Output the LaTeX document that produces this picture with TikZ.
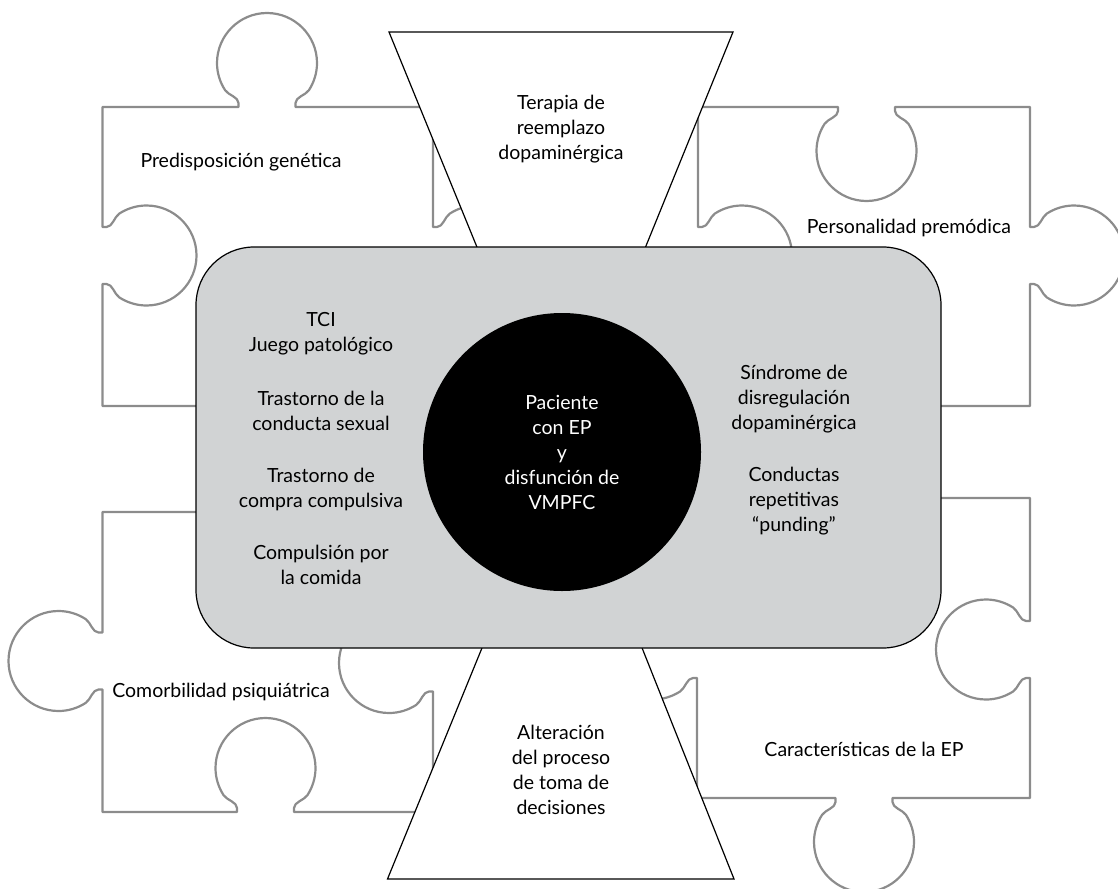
\documentclass[tikz,border=0pt]{standalone}
\usepackage{fontspec}
\setmainfont{Lato}
\definecolor{boxgray}{RGB}{209,211,212}
\definecolor{piecegray}{RGB}{140,140,140}
\newcommand\mktab[7]{%
  \foreach \i/\tu/\tv in {0/-28.5/0,1/-28.5/4,2/-28.5/10,3/-38.63/11.77,4/-41.9/16.8,5/-47.17/24.91,6/-50/34.33,7/-50/44,8/-50/71.6,9/-27.6/94,10/0/94,11/27.6/94,12/50/71.6,13/50/44,14/50/34.33,15/47.17/24.91,16/41.9/16.8,17/38.63/11.77,18/28.5/10,19/28.5/4,20/28.5/0}{%
    \coordinate (#1-\i) at ({#2+(\tu)*(#4)+(\tv)*(#6)},{#3+(\tu)*(#5)+(\tv)*(#7)});
  }%
}
\tikzset{
  piece/.style={draw=piecegray, line width=2.2pt, line join=round},
  trap/.style={draw=black, line width=1.2pt, fill=white, line join=miter},
  lbl/.style={align=center, font=\fontsize{19.5}{25}\selectfont, inner sep=0pt},
  tabp/.style={insert path={-- (#1-0) -- (#1-1) .. controls (#1-2) and (#1-3) .. (#1-4) .. controls (#1-5) and (#1-6) .. (#1-7) .. controls (#1-8) and (#1-9) .. (#1-10) .. controls (#1-11) and (#1-12) .. (#1-13) .. controls (#1-14) and (#1-15) .. (#1-16) .. controls (#1-17) and (#1-18) .. (#1-19) -- (#1-20)}}
}
\begin{document}
\begin{tikzpicture}[x=1pt,y=-1pt]
\useasboundingbox (0,0) rectangle (1118,888);
% top-left piece
\mktab{tlA}{267}{107}{1}{0}{0}{-1}
\mktab{tlB}{433}{255.5}{0}{1}{1}{0}
\mktab{tlC}{102.5}{255.5}{0}{-1}{1}{0}
\draw[piece] (102.5,107) [tabp=tlA] -- (433,107) [tabp=tlB] -- (433,406) -- (102.5,406) [tabp=tlC] -- cycle;
% top-right piece
\mktab{trA}{866.5}{107}{1}{0}{0}{1}
\mktab{trB}{1030}{255.5}{0}{1}{1}{0}
\mktab{trC}{698}{255.5}{0}{-1}{1}{0}
\draw[piece] (698,107) [tabp=trA] -- (1030,107) [tabp=trB] -- (1030,406) -- (698,406) [tabp=trC] -- cycle;
% bottom-left piece
\mktab{blA}{433}{663}{0}{1}{-1}{0}
\mktab{blB}{265.5}{812}{-1}{0}{0}{-1}
\mktab{blC}{102.5}{661}{0}{-1}{-1}{0}
\draw[piece] (102.5,512) -- (433,512) [tabp=blA] -- (433,812) [tabp=blB] -- (102.5,812) [tabp=blC] -- cycle;
% bottom-right piece
\mktab{brA}{1030}{649.5}{0}{1}{-1}{0}
\mktab{brB}{864}{798}{-1}{0}{0}{1}
\mktab{brC}{697}{649.5}{0}{-1}{-1}{0}
\draw[piece] (697,498) -- (1030,498) [tabp=brA] -- (1030,798) [tabp=brB] -- (697,798) [tabp=brC] -- cycle;
% piece labels
\node[lbl] (pgen) at (241,162) {Predisposición genética};
\node[lbl] (ppre) at (909,228) {Personalidad premódica};
\node[lbl] (pcom) at (221,692) {Comorbilidad psiquiátrica};
\node[lbl] (pcar) at (864,749) {Características de la EP};
% trapezoids
\draw[trap] (389,32) -- (733,32) -- (624,300) -- (498.6,300) -- cycle;
\draw[trap] (387.5,879) -- (734,879) -- (623,600) -- (501.6,600) -- cycle;
\node[lbl] (tter) at (561,129) {Terapia de\\reemplazo\\dopaminérgica};
\node[lbl] (talt) at (561,770) {Alteración\\del proceso\\de toma de\\decisiones};
% central box
\node[draw=black, line width=1.2pt, fill=boxgray, rounded corners=58pt, minimum width=745pt, minimum height=401pt, inner sep=0pt] (box) at (568.5,447.5) {};
\node[lbl, circle, fill=black, text=white, minimum size=278pt] (core) at (562,452) {Paciente\\con EP\\y\\disfunción de\\VMPFC};
% left column
\node[lbl] (l1) at (321,334) {TCI\\Juego patológico};
\node[lbl] (l2) at (321,411) {Trastorno de la\\conducta sexual};
\node[lbl] (l3) at (321,489) {Trastorno de\\compra compulsiva};
\node[lbl] (l4) at (321,565) {Compulsión por\\la comida};
% right column
\node[lbl] (r1) at (794,399) {Síndrome de\\disregulación\\dopaminérgica};
\node[lbl] (r2) at (794,501) {Conductas\\repetitivas\\“punding”};
\end{tikzpicture}
\end{document}
